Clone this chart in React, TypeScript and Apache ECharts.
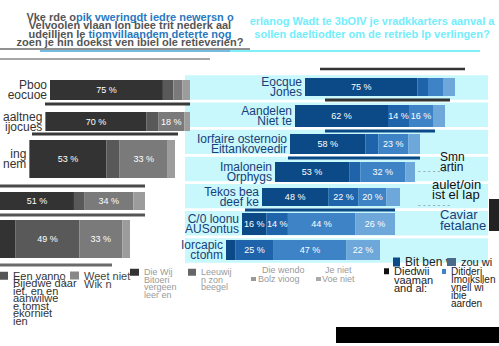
import React, { useEffect, useRef } from "react";
import * as echarts from "echarts";

// ---------- data ----------
const grayCategories = ["Pboo\neocuoe", "aaltneg\nijocues", "ing\nnem", "", ""];
const grayRow1 = [75, 7, 6, 5];
const grayRow2 = [70, 8, 18, 4];
const grayRow3 = [53, 9, 33, 5];
const grayRow4 = [51, 7, 34, 8];
const grayRow5 = [12, 49, 33, 6];
const graySegmentNames = [
  "Een vanno\nBijedwe daar\niet, en en\naanwilwe\ne tomst\nekorniet\nien",
  "Weet niet\nWik n",
  "Die Wij\nBitoeri\nvergeen\nleer en",
  "Leeuwij\nn zon\nbeegel",
];

const blueCategories = [
  "Eocque\nJones",
  "Aandelen\nNiet te",
  "Iorfaire osternoio\nEittankoveedir",
  "Imalonein\nOrphygs",
  "Tekos bea\ndeef ke",
  "C/0 loonu\nAUSontus",
  "Iorcapic\nctonm",
];
const blueRow1 = [75, 7, 10, 8];
const blueRow2 = [62, 14, 16, 8];
const blueRow3 = [58, 10, 23, 9];
const blueRow4 = [53, 8, 32, 7];
const blueRow5 = [48, 22, 20, 10];
const blueRow6 = [16, 14, 44, 26];
const blueRow7 = [6, 25, 47, 22];
const blueSegmentNames = [
  "Bit ben v",
  "zou wi",
  "Diedwii\nvaaman\nand al:",
  "Ditideri\nImoiksllen\nvnell wi\nibie\naarden",
];
const backgroundRows = [1, 1, 1, 1, 1, 1, 1];

const grayTitleParts = [
  [["g", "Vke rde o"], ["b", "pik vweringdt iedre newersn o"]],
  [["g", "Velvoolen vlaan lon biee trit nederk aal"]],
  [["g", "udeillien le "], ["b", "tiomvillaandem deterte nog"]],
  [["g", "zoen je hin doekst ven ibiel ole retieverien?"]],
];
const blueTitle =
  "erlanog Wadt te 3bOlV je vradkkarters aanval a\nsollen daeltiodter om de retrieb lp verlingen?";
const extraLegendTexts = ["Die wendo", "Je niet", "Bolz vioog", "Voe niet"];

// ---------- layout ----------
const grayValues = [grayRow1, grayRow2, grayRow3, grayRow4, grayRow5];
const grayLayout = [
  { left: 50, width: 140, top: 80, height: 20 },
  { left: 35, width: 155, top: 112, height: 19 },
  { left: 14, width: 161, top: 140, height: 38 },
  { left: 0, width: 145, top: 192, height: 18 },
  { left: 0, width: 130, top: 220, height: 38 },
];
const grayColors = ["#333333", "#595959", "#7a7a7a", "#9c9c9c"];

const blueValues = [blueRow1, blueRow2, blueRow3, blueRow4, blueRow5, blueRow6, blueRow7];
const blueLayout = [
  { left: 305, width: 150, top: 78, height: 18 },
  { left: 295, width: 150, top: 105, height: 22 },
  { left: 290, width: 130, top: 134, height: 20 },
  { left: 275, width: 140, top: 162, height: 20 },
  { left: 262, width: 138, top: 188, height: 18 },
  { left: 242, width: 153, top: 213, height: 22 },
  { left: 226, width: 154, top: 240, height: 20 },
];
const blueColors = ["#0b4a87", "#1f63ab", "#3d83c6", "#6ea7da"];

const grayLegendPos = [
  { x: 0, y: 270, w: 8, h: 8, color: "#333333", icon: "#555555", size: 11, lh: 7.5 },
  { x: 70, y: 270, w: 9, h: 8, color: "#444444", icon: "#888888", size: 11, lh: 8 },
  { x: 130, y: 268, w: 9, h: 7, color: "#9a9a9a", icon: "#333333", size: 9, lh: 7.5 },
  { x: 188, y: 268, w: 8, h: 7, color: "#9a9a9a", icon: "#666666", size: 9, lh: 7.5 },
];
const blueLegendPos = [
  { x: 393, y: 256, w: 7, h: 9, color: "#222222", icon: "#0b4a87", size: 12, lh: 9 },
  { x: 447, y: 257, w: 9, h: 8, color: "#222222", icon: "#4a6a8c", size: 11, lh: 9 },
  { x: 384, y: 267, w: 5, h: 6, color: "#222222", icon: "#111111", size: 11, lh: 8.5 },
  { x: 442, y: 268, w: 4, h: 5, color: "#222222", icon: "#3d83c6", size: 10, lh: 8 },
];
const FONT = "Liberation Sans Narrow, Liberation Sans, sans-serif";

export default function App() {
  const ref = useRef<HTMLDivElement>(null);

  useEffect(() => {
    if (!ref.current) return;
    const chart = echarts.init(ref.current, null, { renderer: "svg" });

    const grids: any[] = [];
    const xAxes: any[] = [];
    const yAxes: any[] = [];
    const series: any[] = [];

    // background cyan rows
    grids.push({ left: 185, width: 303, top: 74, height: 190 });
    xAxes.push({ type: "value", gridIndex: 0, min: 0, max: 1, show: false });
    yAxes.push({ type: "category", gridIndex: 0, inverse: true, data: blueCategories, show: false });
    series.push({
      type: "bar",
      name: "bg",
      xAxisIndex: 0,
      yAxisIndex: 0,
      data: backgroundRows,
      barCategoryGap: "10%",
      itemStyle: { color: "#c8f7fc" },
      silent: true,
      z: 0,
    });

    const addRow = (
      values: number[],
      label: string,
      lay: any,
      colors: string[],
      names: string[],
      labelColor: string,
      labelSize: number
    ) => {
      const gi = grids.length;
      grids.push({ ...lay });
      const total = values.reduce((a, b) => a + b, 0);
      xAxes.push({ type: "value", gridIndex: gi, min: 0, max: total, show: false });
      yAxes.push({
        type: "category",
        gridIndex: gi,
        data: [label],
        axisLine: { show: false },
        axisTick: { show: false },
        axisLabel: {
          show: label !== "",
          color: labelColor,
          fontSize: labelSize,
          lineHeight: labelSize - 2,
          margin: 3,
          fontFamily: FONT,
        },
      });
      values.forEach((v, s) => {
        const px = (lay.width * v) / total;
        series.push({
          type: "bar",
          name: names[s],
          xAxisIndex: gi,
          yAxisIndex: gi,
          stack: "row" + gi,
          data: [{ value: v, label: { show: px >= 20 } }],
          barWidth: "100%",
          itemStyle: { color: colors[s] },
          label: {
            show: true,
            formatter: "{c} %",
            color: "#ffffff",
            fontSize: 9,
            fontFamily: FONT,
          },
          z: 2,
        });
      });
    };

    grayValues.forEach((vals, i) =>
      addRow(vals, grayCategories[i], grayLayout[i], grayColors, graySegmentNames, "#333", 12)
    );
    blueValues.forEach((vals, i) =>
      addRow(vals, blueCategories[i], blueLayout[i], blueColors, blueSegmentNames, "#17407a", 12)
    );

    // one legend per entry; text hangs down from the icon (first line beside it)
    const makeLegend = (name: string, p: any) => {
      const n = name.split("\n").length;
      const offset = Math.max(0, ((2 * n - 1) * p.lh) / 2 - p.h / 2);
      return {
        data: [{ name, itemStyle: { color: p.icon } }],
        formatter: (nm: string) => "\n".repeat(n - 1) + nm,
        left: p.x,
        top: p.y - offset,
        padding: 0,
        itemWidth: p.w,
        itemHeight: p.h,
        itemGap: 4,
        icon: "rect",
        selectedMode: false,
        textStyle: { fontSize: p.size, lineHeight: p.lh, color: p.color, fontFamily: FONT },
      };
    };
    const legends = [
      ...graySegmentNames.map((n, i) => makeLegend(n, grayLegendPos[i])),
      ...blueSegmentNames.map((n, i) => makeLegend(n, blueLegendPos[i])),
    ];

    const line = (x1: number, y1: number, x2: number, y2: number, color: string, w: number) => ({
      type: "line",
      z: 100,
      shape: { x1, y1, x2, y2 },
      style: { stroke: color, lineWidth: w },
      silent: true,
    });
    const txt = (x: number, y: number, text: string, color: string, size: number, extra: any = {}) => ({
      type: "text",
      z: 100,
      x,
      y,
      style: { text, fill: color, fontSize: size, fontFamily: FONT, lineHeight: size - 1, ...extra },
      silent: true,
    });
    const rect = (x: number, y: number, width: number, height: number, fill: string) => ({
      type: "rect",
      z: 100,
      shape: { x, y, width, height },
      style: { fill },
      silent: true,
    });

    const grayTitleText = grayTitleParts
      .map((parts) => parts.map(([k, t]) => `{${k}|${t}}`).join(""))
      .join("\n");
    const richBase = { fontSize: 11, fontWeight: "bold", fontFamily: FONT, lineHeight: 8.3 };

    const graphic: any[] = [
      {
        type: "text",
        z: 100,
        x: 130,
        y: 13,
        silent: true,
        style: {
          text: grayTitleText,
          align: "center",
          fontSize: 11,
          fontFamily: FONT,
          fontWeight: "bold",
          lineHeight: 8.3,
          rich: {
            g: { ...richBase, fill: "#555555" },
            b: { ...richBase, fill: "#2a78c0" },
          },
        },
      },
      txt(372, 14, blueTitle, "#72eefc", 11, { align: "center", fontWeight: "bold", lineHeight: 13 }),
      line(0, 49, 250, 49, "#6b6b6b", 1.5),
      line(40, 51, 250, 51, "#4aa3d9", 1.5),
      line(230, 51, 480, 51, "#7feff8", 2),
      line(0, 59, 210, 59, "#888888", 1.5),
      line(320, 69, 465, 69, "#333333", 2.5),
      // gray dividers
      line(45, 104, 190, 104, "#3a3a3a", 3),
      line(32, 134, 178, 134, "#3a3a3a", 3),
      line(0, 186, 145, 186, "#4a4a4a", 3),
      line(0, 215, 145, 215, "#555555", 3),
      line(0, 265, 112, 265, "#6a6a6a", 3),
      // blue dividers
      line(325, 100, 450, 100, "#333333", 3),
      line(325, 131, 435, 131, "#0b4a87", 3),
      line(288, 158, 420, 158, "#0b4a87", 3),
      line(245, 210, 395, 210, "#0b4a87", 3),
      // right side text
      txt(440, 152, "Smn\nartin", "#111111", 12, { lineHeight: 10 }),
      txt(432, 179, "aulet/oin\nist el lap", "#111111", 13, { lineHeight: 10 }),
      txt(440, 209, "Caviar\nfetalane", "#17407a", 13, { lineHeight: 11 }),
      txt(418, 167, "- - - - - - -", "#777777", 8),
      txt(418, 201, "- - - - - - -", "#777777", 8),
      rect(489, 199, 10, 32, "#222222"),
      rect(336, 327, 163, 16, "#000000"),
      // faint extra legend entries
      txt(262, 266, extraLegendTexts[0], "#9a9a9a", 9),
      txt(325, 266, extraLegendTexts[1], "#9a9a9a", 9),
      rect(251, 277, 5, 4, "#9a9a9a"),
      txt(258, 275, extraLegendTexts[2], "#9a9a9a", 9),
      rect(316, 277, 5, 4, "#aaaaaa"),
      txt(322, 275, extraLegendTexts[3], "#9a9a9a", 9),
      rect(64, 277, 1, 8, "#888888"),
    ];

    chart.setOption({
      animation: false,
      grid: grids,
      xAxis: xAxes,
      yAxis: yAxes,
      series,
      legend: legends,
      graphic,
    });

    return () => chart.dispose();
  }, []);

  return (
    <div
      ref={ref}
      style={{ position: "fixed", left: 0, top: 0, width: 499, height: 346, background: "#ffffff" }}
    />
  );
}
